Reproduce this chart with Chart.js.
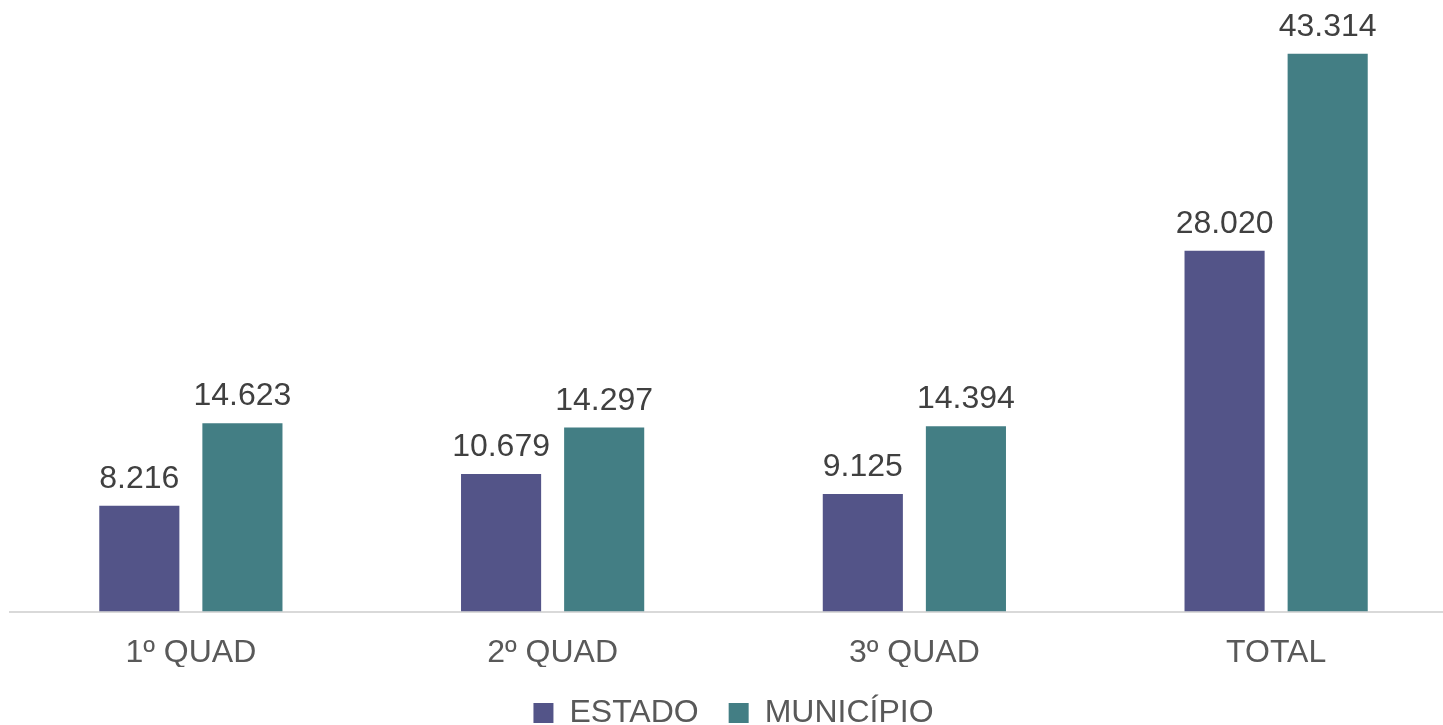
<!DOCTYPE html>
<html>
<head>
<meta charset="utf-8">
<script src="https://cdn.jsdelivr.net/npm/chart.js@4.4.1/dist/chart.umd.min.js"></script>
<style>
	html, body { margin: 0; padding: 0; background: #fff; overflow: hidden; }
	#wrap { position: relative; width: 1467px; height: 739px; }
</style>
</head>
<body>
<div id="wrap"><canvas id="bar-chart"></canvas></div>
<script>
	var categories = ["1º QUAD", "2º QUAD", "3º QUAD", "TOTAL"];
	var estado = [8216, 10679, 9125, 28020];
	var municipio = [14623, 14297, 14394, 43314];

	var FONT = '"Liberation Sans", Arial, sans-serif';

	/* numbers as 43.314 */
	function fmt(v) {
		return v.toString().replace(/\B(?=(\d{3})+(?!\d))/g, ".");
	}

	// draws the value above each bar
	var valueLabels = {
		id: 'valueLabels',
		afterDatasetsDraw: function (chart) {
			var ctx = chart.ctx;
			ctx.save();
			ctx.font = '32px ' + FONT;
			ctx.fillStyle = '#404040';
			ctx.textAlign = 'center';
			ctx.textBaseline = 'alphabetic';
			chart.data.datasets.forEach(function (ds, i) {
				chart.getDatasetMeta(i).data.forEach(function (bar, j) {
					ctx.fillText(fmt(ds.data[j]), bar.x, bar.y - 18);
				});
			});
			ctx.restore();
		}
	};

	new Chart(document.getElementById("bar-chart").getContext('2d'), {
		type: 'bar',
		data: {
			labels: categories,
			datasets: [
				{ label: "ESTADO", backgroundColor: "#535488", data: estado },
				{ label: "MUNICÍPIO", backgroundColor: "#437E84", data: municipio }
			]
		},
		options: {
			responsive: true,
			maintainAspectRatio: false,
			animation: false,
			layout: { padding: { top: 18, left: 10, right: 10, bottom: 0 } },
			datasets: {
				bar: { categoryPercentage: 0.57, barPercentage: 0.777 }
			},
			scales: {
				x: {
					grid: { display: false, drawTicks: false },
					border: { display: true, color: '#d9d9d9', width: 2 },
					ticks: {
						color: '#595959',
						padding: 22,
						font: { family: FONT, size: 32 }
					},
					// pull the legend closer to the tick labels
					afterFit: function (scale) {
						scale.height -= 27;
					}
				},
				y: {
					display: false,
					min: 0,
					max: 46100
				}
			},
			plugins: {
				legend: {
					position: 'bottom',
					labels: {
						color: '#595959',
						boxWidth: 20,
						boxHeight: 20,
						padding: 30,
						font: { family: FONT, size: 32 }
					}
				},
				tooltip: { enabled: false }
			}
		},
		plugins: [valueLabels]
	});
</script>
</body>
</html>
